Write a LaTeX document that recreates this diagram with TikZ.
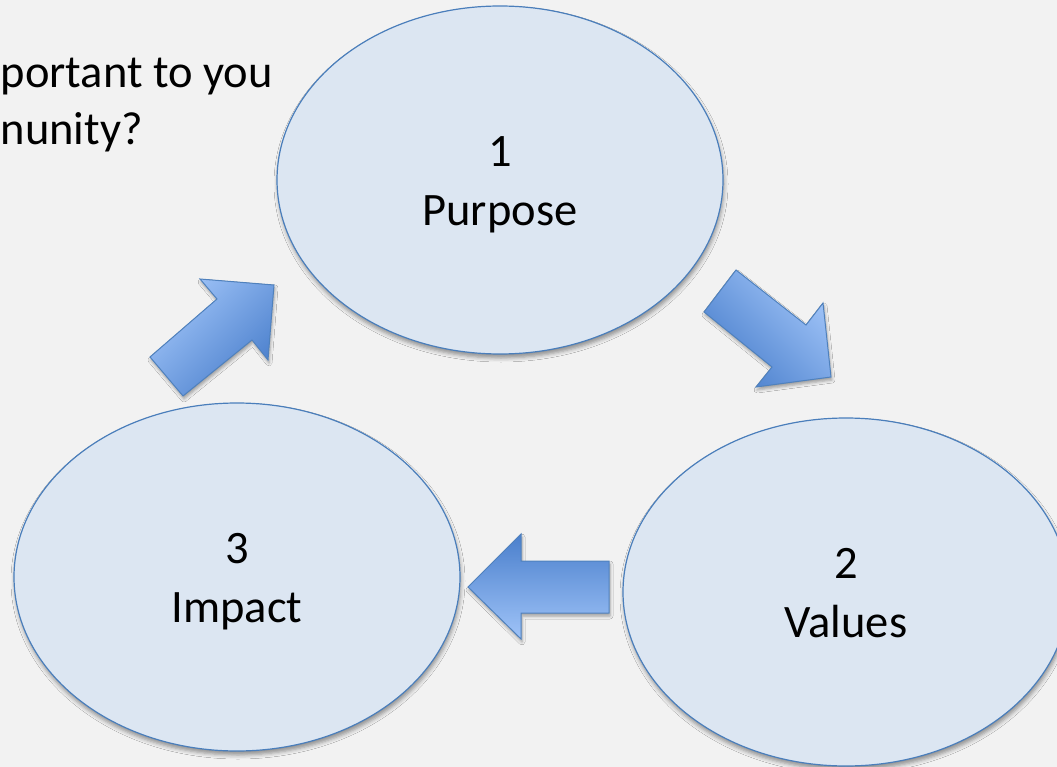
\documentclass[tikz,border=0pt]{standalone}
\usepackage{fontspec}
\setmainfont{Carlito}
\usetikzlibrary{shapes.geometric,shadows.blur}
\definecolor{bg}{HTML}{F2F2F2}
\definecolor{efill}{HTML}{DCE6F2}
\definecolor{eline}{HTML}{4A7EBB}
\definecolor{adark}{HTML}{4A7FCC}
\definecolor{alight}{HTML}{A0C4F8}
\definecolor{aline}{HTML}{4F81BD}
\newcommand{\tallstrut}{\rule{0pt}{44.3pt}}
\newcommand{\deepstrut}{\rule[-12.4pt]{0pt}{12.4pt}}
\begin{document}
\begin{tikzpicture}[x=1pt,y=-1pt,
  bigfont/.style={font=\fontsize{46.5}{59}\selectfont},
  stage/.style={ellipse, draw=eline, line width=1.2pt, fill=efill,
    minimum width=446pt, minimum height=348pt, inner sep=0pt, align=center, bigfont,
    blur shadow={shadow xshift=1pt, shadow yshift=-4pt, shadow blur radius=4pt, shadow opacity=40}},
  blockarrow/.style={draw=aline, line width=1pt, line join=miter,
    blur shadow={shadow xshift=1pt, shadow yshift=-3pt, shadow blur radius=3pt, shadow opacity=35}},
  question/.style={anchor=base west, inner sep=0pt, bigfont, text=black}
]
\useasboundingbox (0,0) rectangle (1057,767);
\clip (0,0) rectangle (1057,767);
\fill[bg] (0,0) rectangle (1057,767);

\node[question] (q1) at (0.5,88) {portant to you};
\node[question] (q2) at (0.5,145) {nunity?};

\node[stage] (p) at (500,180) {\tallstrut 1\\Purpose\deepstrut};
\node[stage] (v) at (846,592) {\tallstrut 2\\Values\deepstrut};
\node[stage] (i) at (237,577) {\tallstrut 3\\Impact\deepstrut};

% Purpose -> Values
\path[blockarrow, top color=alight, bottom color=adark, shading angle=-45]
  (736,270) -- (806,325) -- (823,303) -- (831,377) -- (756,387) -- (772,367) -- (704,312) -- cycle;
% Values -> Impact
\path[blockarrow, top color=adark, bottom color=alight]
  (468,587) -- (521,534) -- (521,561) -- (609,561) -- (609,613) -- (521,613) -- (521,639) -- cycle;
% Impact -> Purpose
\path[blockarrow, top color=alight, bottom color=adark, shading angle=45]
  (150,357) -- (217,299) -- (200,279) -- (274,285) -- (268,360) -- (252,340) -- (183,396) -- cycle;
\end{tikzpicture}
\end{document}
